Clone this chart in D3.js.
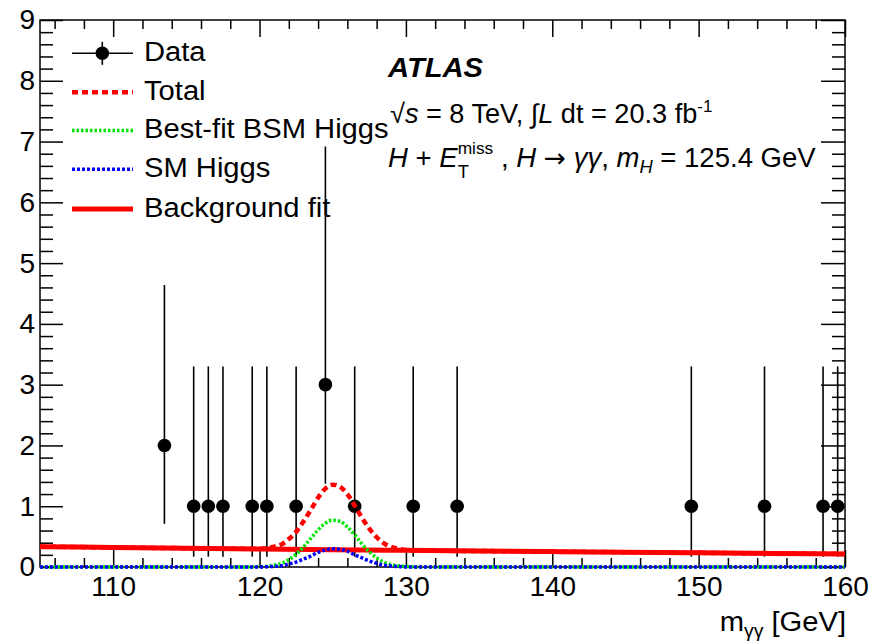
<!DOCTYPE html>
<html>
<head>
<meta charset="utf-8">
<script src="https://cdn.jsdelivr.net/npm/d3@7/dist/d3.min.js"></script>
<style>
  html, body { margin: 0; padding: 0; background: #fff; }
  svg { display: block; }
  text { font-family: "Liberation Sans", Arial, Helvetica, sans-serif; fill: #000; }
</style>
</head>
<body>
<svg id="chart" width="873" height="643"></svg>
<script>
// ---------------- data ----------------
const dataMass   = [113.5, 115.5, 116.5, 117.5, 119.5, 120.5, 122.5, 124.5, 126.5, 130.5, 133.5, 149.5, 154.5, 158.5, 159.5];
const dataCounts = [2, 1, 1, 1, 1, 1, 1, 3, 1, 1, 1, 1, 1, 1, 1];
const dataErrLow  = [0.71, 0.17, 0.17, 0.17, 0.17, 0.17, 0.17, 1.37, 0.17, 0.17, 0.17, 0.17, 0.17, 0.17, 0.17];
const dataErrHigh = [4.64, 3.30, 3.30, 3.30, 3.30, 3.30, 3.30, 6.92, 3.30, 3.30, 3.30, 3.30, 3.30, 3.30, 3.30];

const bkgMass = [105, 110, 115, 120, 125, 130, 135, 140, 145, 150, 155, 160];
const bkgVal  = [0.335, 0.322, 0.309, 0.297, 0.285, 0.274, 0.263, 0.253, 0.243, 0.233, 0.224, 0.215];

const sigMass = [105, 119, 120, 120.5, 121, 121.5, 122, 122.5, 123, 123.5, 124, 124.5, 125, 125.5, 126, 126.5, 127, 127.5, 128, 128.5, 129, 129.5, 130, 131, 160];
const bsmVal  = [0, 0, 0.005, 0.01, 0.03, 0.06, 0.12, 0.21, 0.33, 0.47, 0.61, 0.72, 0.77, 0.75, 0.66, 0.53, 0.38, 0.25, 0.15, 0.08, 0.04, 0.02, 0.01, 0, 0];
const smVal   = [0, 0, 0, 0.005, 0.01, 0.02, 0.05, 0.08, 0.13, 0.18, 0.24, 0.28, 0.30, 0.29, 0.26, 0.20, 0.15, 0.10, 0.06, 0.03, 0.015, 0.007, 0, 0, 0];

const totalMass = [105, 110, 115, 119, 120, 120.5, 121, 121.5, 122, 122.5, 123, 123.5, 124, 124.5, 125, 125.5, 126, 126.5, 127, 127.5, 128, 128.5, 129, 129.5, 130, 131, 135, 140, 145, 150, 155, 160];
const totalVal  = [0.335, 0.322, 0.309, 0.30, 0.30, 0.31, 0.335, 0.37, 0.46, 0.58, 0.75, 0.94, 1.14, 1.29, 1.355, 1.32, 1.20, 1.01, 0.81, 0.63, 0.49, 0.39, 0.33, 0.30, 0.28, 0.27, 0.263, 0.253, 0.243, 0.233, 0.224, 0.215];

const xMajorTicks = [110, 120, 130, 140, 150, 160];
const yMajorTicks = [0, 1, 2, 3, 4, 5, 6, 7, 8, 9];
const legendLabels = ["Data", "Total", "Best-fit BSM Higgs", "SM Higgs", "Background fit"];

// ---------------- layout ----------------
const svg = d3.select("#chart");
const L = 40, R = 845, T = 20, B = 567;
const x = d3.scaleLinear().domain([105, 160]).range([L, R]);
const y = d3.scaleLinear().domain([0, 9]).range([B, T]);
const TFS = 28;

const xMinor = d3.range(106, 160.01, 2).filter(v => !xMajorTicks.includes(v));
const yMinor = d3.range(0, 9.001, 0.2).map(v => +v.toFixed(1)).filter(v => !yMajorTicks.includes(v));

function styleAxis(g) {
  g.select(".domain").remove();
  g.selectAll(".tick line").attr("stroke", "#000").attr("stroke-width", 1.5);
  g.selectAll(".tick text").attr("font-size", TFS).attr("font-family", '"Liberation Sans", Arial, sans-serif').attr("fill", "#000");
}

// bottom axis
svg.append("g").attr("transform", `translate(0,${B})`)
  .call(d3.axisBottom(x).tickValues(xMajorTicks).tickSize(-17).tickPadding(9).tickFormat(d3.format("d")))
  .call(styleAxis);
svg.append("g").attr("transform", `translate(0,${B})`)
  .call(d3.axisBottom(x).tickValues(xMinor).tickSize(-9).tickFormat(""))
  .call(styleAxis);
// top axis
svg.append("g").attr("transform", `translate(0,${T})`)
  .call(d3.axisTop(x).tickValues(xMajorTicks).tickSize(-17).tickFormat(""))
  .call(styleAxis);
svg.append("g").attr("transform", `translate(0,${T})`)
  .call(d3.axisTop(x).tickValues(xMinor).tickSize(-9).tickFormat(""))
  .call(styleAxis);
// left axis
svg.append("g").attr("transform", `translate(${L},0)`)
  .call(d3.axisLeft(y).tickValues(yMajorTicks).tickSize(-23).tickPadding(5).tickFormat(d3.format("d")))
  .call(styleAxis);
svg.append("g").attr("transform", `translate(${L},0)`)
  .call(d3.axisLeft(y).tickValues(yMinor).tickSize(-13).tickFormat(""))
  .call(styleAxis);
// right axis
svg.append("g").attr("transform", `translate(${R},0)`)
  .call(d3.axisRight(y).tickValues(yMajorTicks).tickSize(-24).tickFormat(""))
  .call(styleAxis);
svg.append("g").attr("transform", `translate(${R},0)`)
  .call(d3.axisRight(y).tickValues(yMinor).tickSize(-13).tickFormat(""))
  .call(styleAxis);

// frame
svg.append("rect").attr("x", L).attr("y", T).attr("width", R - L).attr("height", B - T)
  .attr("fill", "none").attr("stroke", "#000").attr("stroke-width", 1.5);

// ---------------- data points ----------------
const pts = dataMass.map((m, i) => ({ m, n: dataCounts[i], lo: dataErrLow[i], hi: dataErrHigh[i] }));
const gData = svg.append("g");
gData.selectAll("line.err").data(pts).join("line")
  .attr("x1", d => x(d.m)).attr("x2", d => x(d.m))
  .attr("y1", d => y(d.lo)).attr("y2", d => y(d.hi))
  .attr("stroke", "#000").attr("stroke-width", 1.6);
gData.selectAll("circle").data(pts).join("circle")
  .attr("cx", d => x(d.m)).attr("cy", d => y(d.n)).attr("r", 6.8).attr("fill", "#000");

// ---------------- curves ----------------
const line = d3.line().x(d => x(d[0])).y(d => y(d[1])).curve(d3.curveMonotoneX);
const RED = "#ff0000", GREEN = "#00e600", BLUE = "#0000ff";
const styles = {
  total: { color: RED, width: 4.5, dash: "6,4" },
  bsm:   { color: GREEN, width: 3.5, dash: "2.5,2" },
  sm:    { color: BLUE, width: 3.5, dash: "3,2" },
  bkg:   { color: RED, width: 5, dash: null }
};
function drawCurve(xs, ys, st) {
  svg.append("path").datum(xs.map((m, i) => [m, ys[i]]))
    .attr("d", line).attr("fill", "none")
    .attr("stroke", st.color).attr("stroke-width", st.width)
    .attr("stroke-dasharray", st.dash);
}
drawCurve(totalMass, totalVal, styles.total);
drawCurve(bkgMass, bkgVal, styles.bkg);
drawCurve(sigMass, bsmVal, styles.bsm);
drawCurve(sigMass, smVal, styles.sm);

// ---------------- text helper (horizontally stretched text like the reference) ----------------
function stretchedText(px, py, fs, sx) {
  return svg.append("text").attr("transform", `translate(${px},${py}) scale(${sx},1)`)
    .attr("x", 0).attr("y", 0).attr("font-size", fs);
}

// ---------------- legend ----------------
const legY = [53.3, 92.3, 130.5, 169.3, 209];
const lx1 = 72, lx2 = 133, ltx = 144;
const gl = svg.append("g");
gl.append("line").attr("x1", lx1).attr("x2", lx2).attr("y1", legY[0]).attr("y2", legY[0]).attr("stroke", "#000").attr("stroke-width", 1.6);
gl.append("line").attr("x1", 102.3).attr("x2", 102.3).attr("y1", legY[0] - 11.5).attr("y2", legY[0] + 11.5).attr("stroke", "#000").attr("stroke-width", 1.6);
gl.append("circle").attr("cx", 102.3).attr("cy", legY[0]).attr("r", 6.8).attr("fill", "#000");
[styles.total, styles.bsm, styles.sm, styles.bkg].forEach((st, i) => {
  gl.append("line").attr("x1", lx1).attr("x2", lx2).attr("y1", legY[i + 1]).attr("y2", legY[i + 1])
    .attr("stroke", st.color).attr("stroke-width", st.width).attr("stroke-dasharray", st.dash);
});
legendLabels.forEach((t, i) => {
  stretchedText(ltx, legY[i] + 7.6, 27, 1.08).text(t);
});

// ---------------- labels ----------------
stretchedText(388, 76.7, 27, 1.08).attr("font-weight", "bold").attr("font-style", "italic").text("ATLAS");

const t2 = stretchedText(390, 123, 27, 1.005);
t2.append("tspan").text("\u221A");
t2.append("tspan").attr("font-style", "italic").text("s");
t2.append("tspan").text(" = 8 TeV, \u222B");
t2.append("tspan").attr("font-style", "italic").text("L");
t2.append("tspan").text(" dt = 20.3 fb");
t2.append("tspan").attr("font-size", 17).attr("dy", -11).text("-1");

const t3 = stretchedText(388, 167, 27, 1.02);
t3.append("tspan").attr("font-style", "italic").text("H");
t3.append("tspan").text(" + ");
t3.append("tspan").attr("font-style", "italic").text("E");
const tT = t3.append("tspan").attr("font-size", 18).attr("dy", 11).text("T");
const wT = tT.node().getComputedTextLength();
t3.append("tspan").attr("font-size", 17).attr("dy", -24).attr("dx", -wT).text("miss");
t3.append("tspan").attr("dy", 13).text(" , ");
t3.append("tspan").attr("font-style", "italic").text("H");
t3.append("tspan").text(" ");
t3.append("tspan").attr("font-family", '"DejaVu Sans", sans-serif').attr("font-size", 26).text("\u2192");
t3.append("tspan").text(" ");
t3.append("tspan").attr("font-style", "italic").text("\u03B3\u03B3");
t3.append("tspan").text(", ");
t3.append("tspan").attr("font-style", "italic").text("m");
t3.append("tspan").attr("font-style", "italic").attr("font-size", 18).attr("dy", 6).text("H");
t3.append("tspan").attr("dy", -6).text(" = 125.4 GeV");

const tx = svg.append("text").attr("transform", "translate(846,631) scale(1.08,1)")
  .attr("font-size", 27).attr("text-anchor", "end");
tx.append("tspan").text("m");
tx.append("tspan").attr("font-size", 18).attr("dy", 6).text("\u03B3\u03B3");
tx.append("tspan").attr("dy", -6).text(" [GeV]");
</script>
</body>
</html>
